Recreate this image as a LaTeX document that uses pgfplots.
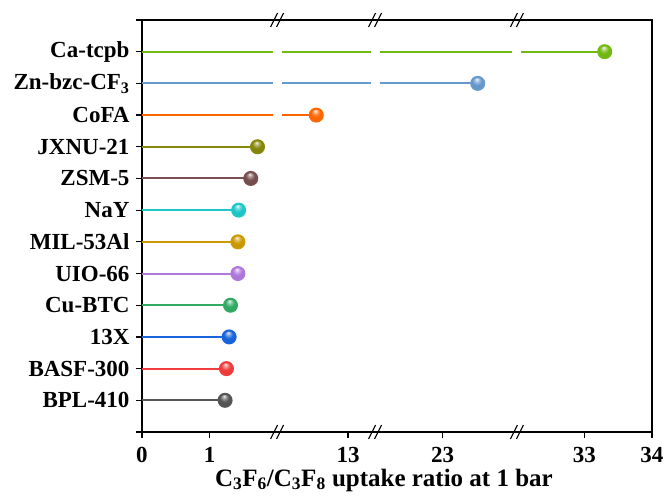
\documentclass[border=0pt]{standalone}
\usepackage{pgfplots}
\pgfplotsset{compat=1.18}
\usepackage{fontspec}
\setmainfont{Liberation Serif}
\usetikzlibrary{plotmarks}
\makeatletter
\pgfdeclareradialshading[tikz@ball]{ball}{\pgfqpoint{-4bp}{16bp}}{%
  color(0bp)=(tikz@ball!8!white);
  color(7bp)=(tikz@ball!55!white);
  color(18bp)=(tikz@ball);
  color(45bp)=(tikz@ball!92!black);
  color(70bp)=(tikz@ball!80!black)}
\makeatother
\definecolor{cA}{RGB}{115,185,20}
\definecolor{cB}{RGB}{102,153,204}
\definecolor{cC}{RGB}{255,102,0}
\definecolor{cD}{RGB}{135,135,10}
\definecolor{cE}{RGB}{120,78,78}
\definecolor{cF}{RGB}{30,200,200}
\definecolor{cG}{RGB}{204,153,0}
\definecolor{cH}{RGB}{175,120,220}
\definecolor{cI}{RGB}{50,170,100}
\definecolor{cJ}{RGB}{25,100,220}
\definecolor{cK}{RGB}{240,60,60}
\definecolor{cL}{RGB}{85,85,85}
\tikzset{
  brk/.style={black, line width=1.1pt},
}
\begin{document}
\begin{tikzpicture}
\useasboundingbox (-142pt,-66pt) rectangle (525pt,432pt);
\begin{axis}[
  at={(0,0)}, anchor=south west,
  scale only axis, width=510pt, height=412pt,
  clip=false,
  x coord trafo/.code={\pgfmathparse{(#1<5) ? (#1) : ((#1<17) ? (#1-9.95) : ((#1<28) ? (#1-18.55) : (#1-26.45)))}},
  xmin=0, xmax=34, ymin=0, ymax=13,
  xtick={0,1,13,23,33,34},
  xticklabels={0,1,13,23,33,34},
  ytick={0,1,2,3,4,5,6,7,8,9,10,11,12,13},
  yticklabels={,BPL-410,BASF-300,13X,Cu-BTC,UIO-66,MIL-53Al,NaY,ZSM-5,JXNU-21,CoFA,Zn-bzc-CF\textsubscript{3},Ca-tcpb,},
  xtick pos=lower, ytick pos=left,
  tick align=outside,
  major tick length=6pt,
  tick style={black, line width=1.2pt},
  axis line style={black, line width=1.3pt},
  /pgf/number format/assume math mode=true,
  xticklabel style={font=\bfseries\fontsize{23}{27}\selectfont, yshift=-6pt},
  yticklabel style={font=\bfseries\fontsize{23}{27}\selectfont, xshift=-3pt},
  xlabel={C\textsubscript{3}F\textsubscript{6}/C\textsubscript{3}F\textsubscript{8} uptake ratio at 1 bar},
  xlabel style={font=\bfseries\fontsize{25}{29}\selectfont, at={(rel axis cs:0.5,0)}, anchor=center, yshift=-48pt, xshift=-13pt},
  every axis plot/.append style={line width=2pt, mark=ball, mark size=6.5pt},
]
\addplot[cL, mark indices={2}, mark options={ball color=cL}] coordinates {(0,1) (1.23,1)};
\addplot[cK, mark indices={2}, mark options={ball color=cK}] coordinates {(0,2) (1.25,2)};
\addplot[cJ, mark indices={2}, mark options={ball color=cJ}] coordinates {(0,3) (1.29,3)};
\addplot[cI, mark indices={2}, mark options={ball color=cI}] coordinates {(0,4) (1.31,4)};
\addplot[cH, mark indices={2}, mark options={ball color=cH}] coordinates {(0,5) (1.42,5)};
\addplot[cG, mark indices={2}, mark options={ball color=cG}] coordinates {(0,6) (1.42,6)};
\addplot[cF, mark indices={2}, mark options={ball color=cF}] coordinates {(0,7) (1.43,7)};
\addplot[cE, mark indices={2}, mark options={ball color=cE}] coordinates {(0,8) (1.61,8)};
\addplot[cD, mark indices={2}, mark options={ball color=cD}] coordinates {(0,9) (1.71,9)};
\addplot[cC, mark indices={2}, mark options={ball color=cC}] coordinates {(0,10) (12.53,10)};
\addplot[cB, mark indices={2}, mark options={ball color=cB}] coordinates {(0,11) (23.52,11)};
\addplot[cA, mark indices={2}, mark options={ball color=cA}] coordinates {(0,12) (33.30,12)};
% white gaps in the lines at the breaks
\fill[white] ([xshift=-4.5pt]rel axis cs:0.2649,0.02) rectangle ([xshift=4.5pt]rel axis cs:0.2649,0.98);
\fill[white] ([xshift=-4.5pt]rel axis cs:0.4570,0.02) rectangle ([xshift=4.5pt]rel axis cs:0.4570,0.98);
\fill[white] ([xshift=-4.5pt]rel axis cs:0.7351,0.02) rectangle ([xshift=4.5pt]rel axis cs:0.7351,0.98);
% break marks, bottom
\draw[brk] ([xshift=-6.5pt,yshift=-7pt]rel axis cs:0.2649,0) -- ([xshift=0.5pt,yshift=7pt]rel axis cs:0.2649,0);
\draw[brk] ([xshift=-0.5pt,yshift=-7pt]rel axis cs:0.2649,0) -- ([xshift=6.5pt,yshift=7pt]rel axis cs:0.2649,0);
\draw[brk] ([xshift=-6.5pt,yshift=-7pt]rel axis cs:0.4570,0) -- ([xshift=0.5pt,yshift=7pt]rel axis cs:0.4570,0);
\draw[brk] ([xshift=-0.5pt,yshift=-7pt]rel axis cs:0.4570,0) -- ([xshift=6.5pt,yshift=7pt]rel axis cs:0.4570,0);
\draw[brk] ([xshift=-6.5pt,yshift=-7pt]rel axis cs:0.7351,0) -- ([xshift=0.5pt,yshift=7pt]rel axis cs:0.7351,0);
\draw[brk] ([xshift=-0.5pt,yshift=-7pt]rel axis cs:0.7351,0) -- ([xshift=6.5pt,yshift=7pt]rel axis cs:0.7351,0);
% break marks, top
\draw[brk] ([xshift=-6.5pt,yshift=-7pt]rel axis cs:0.2649,1) -- ([xshift=0.5pt,yshift=7pt]rel axis cs:0.2649,1);
\draw[brk] ([xshift=-0.5pt,yshift=-7pt]rel axis cs:0.2649,1) -- ([xshift=6.5pt,yshift=7pt]rel axis cs:0.2649,1);
\draw[brk] ([xshift=-6.5pt,yshift=-7pt]rel axis cs:0.4570,1) -- ([xshift=0.5pt,yshift=7pt]rel axis cs:0.4570,1);
\draw[brk] ([xshift=-0.5pt,yshift=-7pt]rel axis cs:0.4570,1) -- ([xshift=6.5pt,yshift=7pt]rel axis cs:0.4570,1);
\draw[brk] ([xshift=-6.5pt,yshift=-7pt]rel axis cs:0.7351,1) -- ([xshift=0.5pt,yshift=7pt]rel axis cs:0.7351,1);
\draw[brk] ([xshift=-0.5pt,yshift=-7pt]rel axis cs:0.7351,1) -- ([xshift=6.5pt,yshift=7pt]rel axis cs:0.7351,1);
\end{axis}
\end{tikzpicture}
\end{document}
